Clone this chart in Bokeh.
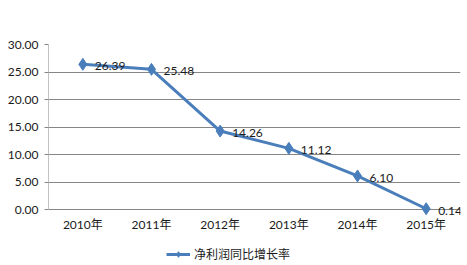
from bokeh.plotting import figure
from bokeh.models import ColumnDataSource, FixedTicker, NumeralTickFormatter, Legend, LegendItem, LabelSet
from bokeh.embed import file_html
from bokeh.resources import INLINE
from bokeh.core.properties import value

years = ["2010年", "2011年", "2012年", "2013年", "2014年", "2015年"]
growth = [26.39, 25.48, 14.26, 11.12, 6.10, 0.14]
labels = ["26.39", "25.48", "14.26", "11.12", "6.10", "0.14"]
series_name = "净利润同比增长率"
y_ticks = [0, 5, 10, 15, 20, 25, 30]

FONT = "Lato, 'Noto Sans CJK SC', sans-serif"
BLUE = "#4A7EBB"
GRID = "#868686"
TXT = "#1a1a1a"
FS = "12px"

xs = list(range(len(years)))
src = ColumnDataSource(dict(x=xs, y=growth, lab=labels))
cat_src = ColumnDataSource(dict(x=xs, y=[0] * len(xs), lab=years))

p = figure(width=467, height=265, x_range=(-0.5, len(years) - 0.5), y_range=(-10.18, 30),
           output_backend="svg", toolbar_location=None,
           min_border_left=48, min_border_right=7, min_border_top=44, min_border_bottom=0)
p.outline_line_color = None
p.background_fill_color = "white"
p.xaxis.visible = False

# left axis line from 0 to 30
p.segment(x0=[-0.5], y0=[0], x1=[-0.5], y1=[30], line_color=GRID, line_width=1)

line = p.line("x", "y", source=src, line_color=BLUE, line_width=3)
pts = p.scatter("x", "y", source=src, marker="diamond", size=12, fill_color=BLUE, line_color=BLUE)

lbl = LabelSet(x="x", y="y", text="lab", source=src, x_offset=12, y_offset=-2,
               text_font=value(FONT), text_font_size=FS, text_color=TXT,
               text_baseline="middle", text_align="left")
p.add_layout(lbl)

cat_lbl = LabelSet(x="x", y="y", text="lab", source=cat_src, x_offset=0, y_offset=-15,
                   text_font=value(FONT), text_font_size=FS, text_color=TXT,
                   text_baseline="middle", text_align="center")
p.add_layout(cat_lbl)

p.yaxis.ticker = FixedTicker(ticks=y_ticks)
p.yaxis.formatter = NumeralTickFormatter(format="0.00")
p.yaxis.major_label_text_font = FONT
p.yaxis.major_label_text_font_size = FS
p.yaxis.major_label_text_color = TXT
p.yaxis.axis_line_color = None
p.yaxis.major_tick_line_color = GRID
p.yaxis.major_tick_out = 4
p.yaxis.major_tick_in = 0
p.yaxis.minor_tick_line_color = None
p.yaxis.major_label_standoff = 6

p.xgrid.grid_line_color = None
p.ygrid.grid_line_color = GRID
p.ygrid.grid_line_width = 1

legend = Legend(items=[LegendItem(label=series_name, renderers=[line, pts])],
                location=(118, 3), orientation="horizontal",
                label_text_font=FONT, label_text_font_size=FS, label_text_color=TXT,
                border_line_color=None, background_fill_alpha=0,
                glyph_width=24, glyph_height=14, label_standoff=4, padding=0, margin=0)
p.add_layout(legend, "center")

open("out.html", "w").write(file_html(p, INLINE))
